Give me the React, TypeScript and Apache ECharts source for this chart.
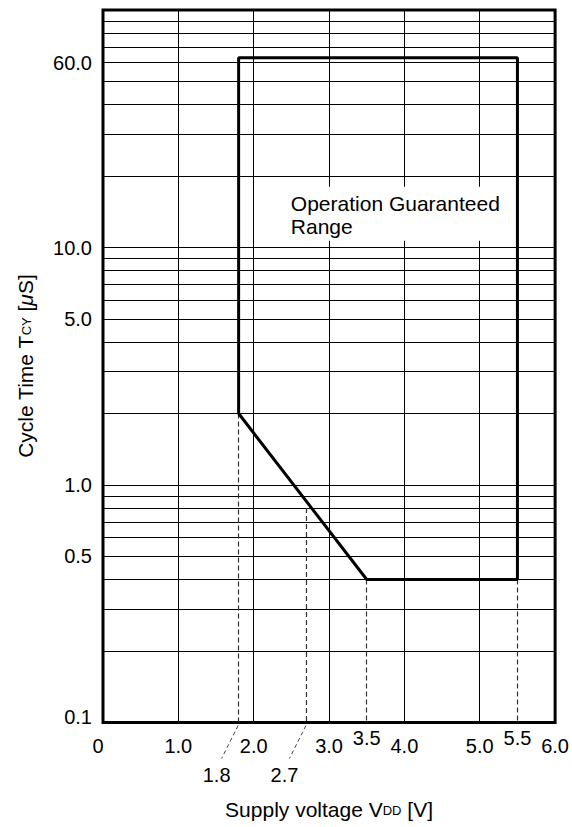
import React, { useEffect, useRef } from "react";
import * as echarts from "echarts";

const FONT = "'Liberation Sans', Arial, Helvetica, sans-serif";

// x axis ticks
const xMin = 0;
const xMax = 6;
const xInterval = 1;

// y axis (log) range
const yMin = 0.1;
const yMax = 100;

// horizontal grid lines (log grid)
const yGridValues = [
  0.2, 0.3, 0.4, 0.5, 0.6, 0.7, 0.8, 0.9,
  1, 2, 3, 4, 5, 6, 7, 8, 9,
  10, 20, 30, 40, 50, 60, 70, 80, 90,
];

// y tick labels
const yLabelValues = [0.1, 0.5, 1, 5, 10, 60];
const yLabelTexts = ["0.1", "0.5", "1.0", "5.0", "10.0", "60.0"];

// operation guaranteed range outline
const rangeX = [1.8, 1.8, 5.5, 5.5, 3.5, 1.8];
const rangeY = [2.0, 63, 63, 0.4, 0.4, 2.0];

// dashed drop lines
const dropX = [1.8, 2.7, 3.5, 5.5];
const dropTop = [2.0, 0.8, 0.4, 0.4];

// extra voltage labels
const markerX = [1.8, 2.7, 3.5, 5.5];
const markerTexts = ["1.8", "2.7", "3.5", "5.5"];
const markerLeader = [true, true, false, false];

// annotation
const noteX = [2.4];
const noteY = [18];
const noteTexts = ["Operation Guaranteed\nRange"];

export default function App() {
  const ref = useRef<HTMLDivElement>(null);

  useEffect(() => {
    if (!ref.current) return;
    const chart = echarts.init(ref.current, null, { renderer: "svg" });

    const gridMarks = yGridValues.map((v) => ({
      yAxis: v,
      lineStyle: { type: "solid", color: "#000", width: 1 },
      label: { show: false },
    }));
    const dropMarks = dropX.map((x, i) => [
      {
        coord: [x, dropTop[i]],
        lineStyle: { type: [5, 3], color: "#333", width: 1.2 },
        label: { show: false },
      },
      { coord: [x, yMin] },
    ]);

    const option: any = {
      animation: false,
      backgroundColor: "#fff",
      grid: {
        left: 103,
        right: 15.5,
        top: 10,
        bottom: 104.5,
        show: true,
        borderColor: "#000",
        borderWidth: 3,
      },
      xAxis: {
        type: "value",
        min: xMin,
        max: xMax,
        interval: xInterval,
        axisLine: { show: false },
        axisTick: { show: false },
        splitLine: { show: true, lineStyle: { color: "#000", width: 1 } },
        axisLabel: {
          margin: 13,
          color: "#000",
          fontSize: 20,
          fontFamily: FONT,
          formatter: (v: number) => (v === 0 ? "{z|0}" : v.toFixed(1)),
          rich: {
            z: { fontSize: 20, fontFamily: FONT, color: "#000", padding: [0, 10, 0, 0] },
          },
        },
        name: "{a|Supply voltage V}{s|DD}{a| [V]}",
        nameLocation: "middle",
        nameGap: 76,
        nameTextStyle: {
          rich: {
            a: { fontSize: 21, fontFamily: FONT, color: "#000" },
            s: { fontSize: 13, fontFamily: FONT, color: "#000", verticalAlign: "bottom", padding: [0, 0, 3, 0] },
          },
        },
      },
      yAxis: {
        type: "log",
        logBase: 10,
        min: yMin,
        max: yMax,
        axisLine: { show: false },
        axisTick: { show: false },
        axisLabel: { show: false },
        splitLine: { show: false },
        name: "{a|Cycle Time T}{s|CY}{a| [}{i|\u03bc}{a|S]}",
        nameLocation: "middle",
        nameRotate: 90,
        nameGap: 67,
        nameTextStyle: {
          rich: {
            a: { fontSize: 21, fontFamily: FONT, color: "#000" },
            s: { fontSize: 13, fontFamily: FONT, color: "#000", verticalAlign: "bottom", padding: [0, 0, 3, 0] },
            i: { fontSize: 21, fontFamily: FONT, color: "#000", fontStyle: "italic" },
          },
        },
      },
      series: [
        {
          type: "line",
          name: "range",
          data: rangeX.map((x, i) => [x, rangeY[i]]),
          symbol: "none",
          lineStyle: { color: "#000", width: 3 },
          z: 5,
          markLine: {
            silent: true,
            symbol: ["none", "none"],
            animation: false,
            precision: 4,
            data: [...gridMarks, ...dropMarks],
          },
        },
        {
          type: "custom",
          name: "yLabels",
          clip: false,
          z: 10,
          data: yLabelValues.map((v) => [xMin, v]),
          renderItem: (params: any, api: any) => {
            const v = api.value(1);
            const pt = api.coord([api.value(0), v]);
            const dy = v === yMin ? -6 : 0;
            return {
              type: "text",
              x: pt[0] - 11,
              y: pt[1] + dy,
              style: {
                text: yLabelTexts[params.dataIndex],
                fill: "#000",
                fontSize: 20,
                fontFamily: FONT,
                align: "right",
                verticalAlign: "middle",
              },
            };
          },
        },
        {
          type: "custom",
          name: "markers",
          clip: false,
          z: 10,
          data: markerX.map((x) => [x, yMin]),
          renderItem: (params: any, api: any) => {
            const pt = api.coord([api.value(0), api.value(1)]);
            const i = params.dataIndex;
            if (markerLeader[i]) {
              return {
                type: "group",
                children: [
                  {
                    type: "line",
                    shape: { x1: pt[0] - 0.5, y1: pt[1] + 3, x2: pt[0] - 17, y2: pt[1] + 36 },
                    style: { stroke: "#444", lineWidth: 1, lineDash: [4, 3] },
                  },
                  {
                    type: "text",
                    x: pt[0] - 22,
                    y: pt[1] + 52,
                    style: {
                      text: markerTexts[i],
                      fill: "#000",
                      fontSize: 20,
                      fontFamily: FONT,
                      align: "center",
                      verticalAlign: "middle",
                    },
                  },
                ],
              };
            }
            return {
              type: "text",
              x: pt[0],
              y: pt[1] + 15,
              style: {
                text: markerTexts[i],
                fill: "#000",
                fontSize: 20,
                fontFamily: FONT,
                align: "center",
                verticalAlign: "middle",
              },
            };
          },
        },
        {
          type: "custom",
          name: "note",
          clip: false,
          z: 8,
          data: noteX.map((x, i) => [x, noteY[i]]),
          renderItem: (params: any, api: any) => {
            const pt = api.coord([api.value(0), api.value(1)]);
            return {
              type: "text",
              x: pt[0],
              y: pt[1],
              style: {
                text: noteTexts[params.dataIndex],
                fill: "#000",
                fontSize: 21,
                fontFamily: FONT,
                lineHeight: 23,
                align: "left",
                verticalAlign: "top",
                backgroundColor: "#fff",
                padding: [5, 8, 3, 7],
              },
            };
          },
        },
      ],
    };

    chart.setOption(option);
    return () => chart.dispose();
  }, []);

  return (
    <div
      ref={ref}
      style={{ position: "fixed", left: 0, top: 0, width: 572, height: 827, background: "#fff" }}
    />
  );
}
